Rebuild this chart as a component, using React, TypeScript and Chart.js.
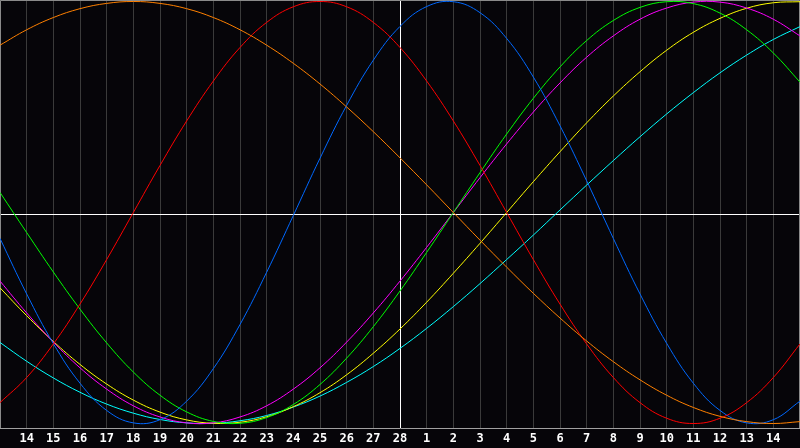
import React, { useEffect, useRef } from "react";
import { Chart, registerables } from "chart.js";

Chart.register(...registerables);

// Day labels along the bottom (first and last positions sit on the chart edges, unlabeled)
const dayLabels = [
  "", "14", "15", "16", "17", "18", "19", "20", "21", "22", "23", "24", "25", "26", "27", "28",
  "1", "2", "3", "4", "5", "6", "7", "8", "9", "10", "11", "12", "13", "14", "",
];

// Curve values (percent, -100..100), one per day position
const orangeValues = [79.3, 86.6, 92.4, 96.6, 99.1, 100, 99.1, 96.6, 92.4, 86.6, 79.3, 70.7, 60.9, 50.0, 38.3, 25.9, 13.1, 0, -13.1, -25.9, -38.3, -50.0, -60.9, -70.7, -79.3, -86.6, -92.4, -96.6, -99.1, -100, -99.1];
const redValues = [-90.1, -78.2, -62.3, -43.4, -22.3, 0, 22.3, 43.4, 62.3, 78.2, 90.1, 97.5, 100, 97.5, 90.1, 78.2, 62.3, 43.4, 22.3, 0, -22.3, -43.4, -62.3, -78.2, -90.1, -97.5, -100, -97.5, -90.1, -78.2, -62.3];
const blueValues = [-12.3, -38.6, -62.1, -80.9, -93.8, -99.7, -98.2, -89.4, -74.0, -53.1, -28.3, -1.4, 25.7, 50.8, 72.2, 88.2, 97.6, 99.9, 94.7, 82.5, 64.2, 41.1, 15.0, -12.3, -38.6, -62.0, -80.9, -93.8, -99.7, -98.2, -89.4];
const greenValues = [9.5, -9.5, -28.2, -45.8, -61.8, -75.6, -86.6, -94.5, -99.0, -99.9, -97.2, -91.0, -81.5, -69.0, -54.1, -37.2, -18.9, 0, 18.9, 37.2, 54.1, 69.0, 81.5, 91.0, 97.2, 99.9, 99.0, 94.5, 86.6, 75.6, 61.8];
const magentaValues = [-32.5, -47.6, -61.4, -73.6, -83.7, -91.6, -96.9, -99.7, -99.7, -96.9, -91.6, -83.7, -73.6, -61.4, -47.6, -32.5, -16.5, 0, 16.5, 32.5, 47.6, 61.4, 73.6, 83.7, 91.6, 96.9, 99.7, 99.7, 96.9, 91.6, 83.7];
const yellowValues = [-35.7, -48.9, -61.1, -72.0, -81.3, -88.9, -94.6, -98.3, -99.9, -99.4, -96.8, -92.0, -85.4, -76.9, -66.7, -55.2, -42.5, -28.8, -14.6, 0, 14.6, 28.8, 42.5, 55.2, 66.7, 76.9, 85.4, 92.0, 96.8, 99.4, 99.9];
const cyanValues = [-61.6, -70.5, -78.4, -85.2, -90.8, -95.1, -98.1, -99.7, -99.9, -98.7, -96.2, -92.2, -87.0, -80.5, -73.0, -64.4, -54.9, -44.6, -33.7, -22.3, -10.7, 1.2, 13.0, 24.6, 35.9, 46.7, 56.8, 66.2, 74.6, 82.0, 88.1];

const todayIndex = 15;
const baselineValue = -0.7;

const series = [
  { name: "orange", values: orangeValues, color: "#ff8000" },
  { name: "red", values: redValues, color: "#ff0000" },
  { name: "blue", values: blueValues, color: "#0068ff" },
  { name: "green", values: greenValues, color: "#00ff00" },
  { name: "magenta", values: magentaValues, color: "#ff00ff" },
  { name: "yellow", values: yellowValues, color: "#ffff00" },
  { name: "cyan", values: cyanValues, color: "#00ffff" },
];

const framePlugin = {
  id: "frame",
  beforeDraw(chart: any) {
    const { ctx, width, height } = chart;
    ctx.save();
    ctx.fillStyle = "#060509";
    ctx.fillRect(0, 0, width, height);
    ctx.restore();
  },
  beforeDatasetsDraw(chart: any) {
    const { ctx, chartArea, scales } = chart;
    ctx.save();
    ctx.lineWidth = 1;
    ctx.strokeStyle = "#ffffff";
    const y0 = Math.round(scales.y.getPixelForValue(baselineValue)) + 0.5;
    ctx.beginPath();
    ctx.moveTo(chartArea.left, y0);
    ctx.lineTo(chartArea.right, y0);
    ctx.stroke();
    ctx.strokeStyle = "#8a8a8a";
    ctx.beginPath();
    ctx.moveTo(chartArea.left + 0.5, chartArea.bottom);
    ctx.lineTo(chartArea.left + 0.5, chartArea.top + 0.5);
    ctx.lineTo(chartArea.right - 0.5, chartArea.top + 0.5);
    ctx.lineTo(chartArea.right - 0.5, chartArea.bottom);
    ctx.stroke();
    ctx.restore();
  },
};

export default function App() {
  const canvasRef = useRef<HTMLCanvasElement | null>(null);

  useEffect(() => {
    const canvas = canvasRef.current;
    if (!canvas) return;
    const chart = new Chart(canvas, {
      type: "line",
      data: {
        labels: dayLabels,
        datasets: series.map((s) => ({
          label: s.name,
          data: s.values,
          borderColor: s.color,
          backgroundColor: s.color,
          borderWidth: 1,
          pointRadius: 0,
          tension: 0.4,
          fill: false,
        })),
      },
      options: {
        responsive: false,
        animation: false,
        layout: { padding: 0 },
        plugins: {
          legend: { display: false },
          tooltip: { enabled: false },
        },
        scales: {
          x: {
            type: "category",
            offset: false,
            grid: {
              color: (ctx: any) => (ctx.index === todayIndex ? "#ffffff" : "#3a3a3a"),
              lineWidth: 1,
              drawTicks: false,
            },
            border: { display: true, color: "#a0a0a0", width: 1 },
            ticks: {
              color: "#ffffff",
              font: { family: "DejaVu Sans Mono", weight: "bold", size: 12 },
              autoSkip: false,
              maxRotation: 0,
              padding: 4,
            },
            afterFit: (s: any) => {
              s.height = 20;
              s.paddingLeft = 0;
              s.paddingRight = 0;
            },
          },
          y: {
            display: false,
            min: -102.13,
            max: 100.71,
          },
        },
      },
      plugins: [framePlugin],
    });
    return () => chart.destroy();
  }, []);

  return (
    <canvas
      ref={canvasRef}
      width={800}
      height={448}
      style={{ position: "fixed", left: 0, top: 0, display: "block", width: 800, height: 448 }}
    />
  );
}
